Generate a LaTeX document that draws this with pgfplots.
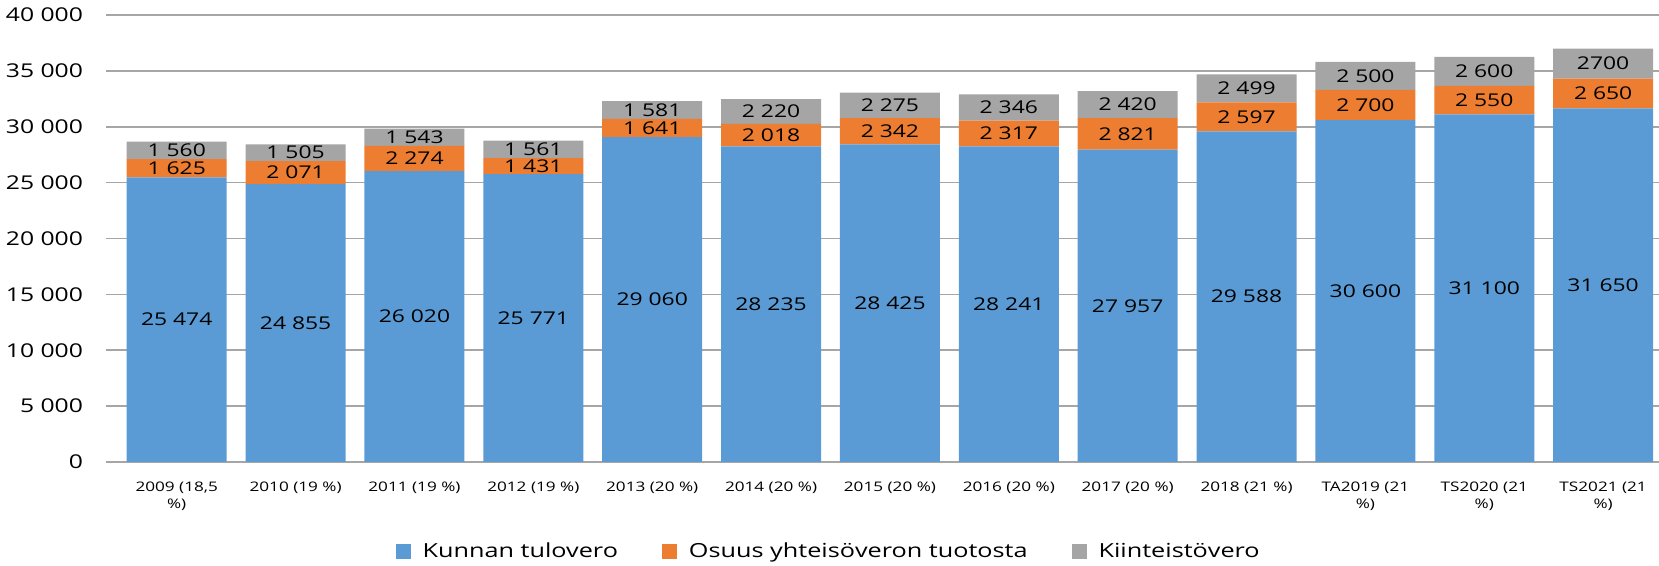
\documentclass[border=0pt]{standalone}
\usepackage{fontspec}
\setmainfont{Open Sans}[FakeStretch=1.3]
\usepackage{pgfplots}
\pgfplotsset{compat=1.18}
\usepackage{pgfplotstable}
\definecolor{cblue}{HTML}{5B9BD5}
\definecolor{corange}{HTML}{ED7D31}
\definecolor{cgray}{HTML}{A5A5A5}
\definecolor{cgrid}{HTML}{A6A6A6}

\pgfplotstableread[col sep=comma]{
x,a,b,c,la,lb,lc
0,25474,1625,1560,25 474,1 625,1 560
1,24855,2071,1505,24 855,2 071,1 505
2,26020,2274,1543,26 020,2 274,1 543
3,25771,1431,1561,25 771,1 431,1 561
4,29060,1641,1581,29 060,1 641,1 581
5,28235,2018,2220,28 235,2 018,2 220
6,28425,2342,2275,28 425,2 342,2 275
7,28241,2317,2346,28 241,2 317,2 346
8,27957,2821,2420,27 957,2 821,2 420
9,29588,2597,2499,29 588,2 597,2 499
10,30600,2700,2500,30 600,2 700,2 500
11,31100,2550,2600,31 100,2 550,2 600
12,31650,2650,2700,31 650,2 650,2700
}\data

\pgfplotsset{common/.style={
  at={(0,0)}, anchor=south west,
  scale only axis,
  width=776.5pt, height=223.5pt,
  xmin=-0.595, xmax=12.47,
  ymin=0, ymax=40000,
}}

\begin{document}
\begin{tikzpicture}
\path[use as bounding box] (-53pt,-52pt) rectangle (776.5pt,231pt);
\begin{axis}[
  common,
  ybar stacked, bar width=50pt,
  ytick={0,5000,...,40000},
  scaled y ticks=false,
  yticklabel style={font=\fontsize{9.5}{11}\selectfont, xshift=-8pt,
    /pgf/number format/.cd, fixed, 1000 sep={\ }, assume math mode=true},
  xtick=data,
  xticklabels={{2009 (18,5\\\%)},{2010 (19 \%)},{2011 (19 \%)},{2012 (19 \%)},{2013 (20 \%)},{2014 (20 \%)},{2015 (20 \%)},{2016 (20 \%)},{2017 (20 \%)},{2018 (21 \%)},{TA2019 (21\\\%)},{TS2020 (21\\\%)},{TS2021 (21\\\%)}},
  xticklabel style={font=\fontsize{6.6}{8.6}\selectfont, align=center, yshift=-6.5pt},
  major tick length=0pt,
  axis y line*=left,
  y axis line style={draw=none},
  axis x line*=bottom,
  x axis line style={cgrid, line width=0.8pt, -},
  ymajorgrids, grid style={cgrid, line width=0.8pt},
  legend style={at={(axis description cs:0.466,-0.2013)}, anchor=center, draw=none, fill=none,
    legend columns=3, font=\fontsize{9.7}{12}\selectfont,
    /tikz/every odd column/.append style={column sep=4pt},
    /tikz/every even column/.append style={column sep=20pt}},
  legend image code/.code={\fill[#1] (0pt,-3.5pt) rectangle (7.5pt,4pt);},
]
\addplot[fill=cblue, draw=none] table[x=x, y=a] {\data};
\addplot[fill=corange, draw=none] table[x=x, y=b] {\data};
\addplot[fill=cgray, draw=none] table[x=x, y=c] {\data};
\legend{Kunnan tulovero, Osuus yhteisöveron tuotosta, Kiinteistövero}
\end{axis}
\begin{axis}[
  common,
  hide axis,
  point meta=explicit symbolic,
  nodes near coords,
  nodes near coords align={center},
  every node near coord/.append style={font=\fontsize{8.8}{10}\selectfont, text=black, inner sep=0pt, anchor=center},
]
\addplot[draw=none, mark=none, only marks] table[x=x, y expr=\thisrow{a}/2, meta=la] {\data};
\addplot[draw=none, mark=none, only marks] table[x=x, y expr=\thisrow{a}+\thisrow{b}/2, meta=lb] {\data};
\addplot[draw=none, mark=none, only marks] table[x=x, y expr=\thisrow{a}+\thisrow{b}+\thisrow{c}/2, meta=lc] {\data};
\end{axis}
\end{tikzpicture}
\end{document}
